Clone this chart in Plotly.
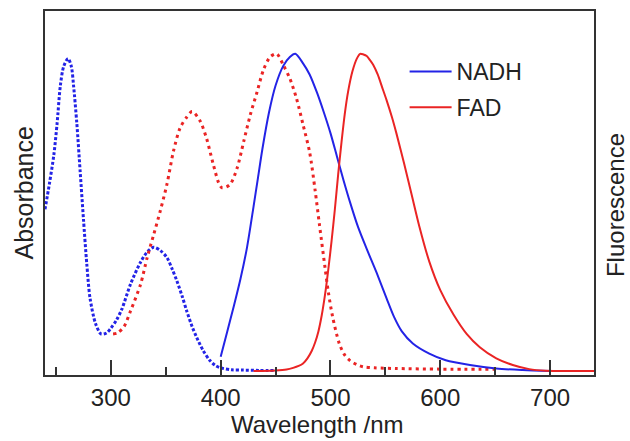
import plotly.graph_objects as go

# ---- data (normalised intensities) ----
nadh_abs_wl = [240, 244, 248, 251, 254, 257, 261, 264, 266, 269, 272, 275, 278, 281, 286, 291, 296, 300,
               305, 310, 318, 327, 333, 339, 345, 351, 356, 360, 365, 369, 374, 378, 384, 390, 395, 400,
               410, 420, 435, 450]
nadh_abs = [0.51, 0.59, 0.68, 0.78, 0.90, 0.96, 0.985, 0.96, 0.90, 0.78, 0.63, 0.48, 0.34, 0.23, 0.15,
            0.117, 0.12, 0.135, 0.16, 0.195, 0.275, 0.343, 0.375, 0.39, 0.38, 0.358, 0.32, 0.285, 0.235,
            0.19, 0.14, 0.107, 0.065, 0.034, 0.018, 0.01, 0.004, 0.003, 0.002, 0.002]

fad_abs_wl = [302, 306, 312, 318, 327, 333, 339, 345, 351, 357, 363, 369, 374, 381, 387, 393, 398, 401,
              405, 409, 415, 421, 427, 433, 439, 445, 451, 457, 463, 469, 475, 481, 486, 490, 495, 498,
              502, 508, 513, 518, 524, 530, 540, 560, 600, 650]
fad_abs = [0.117, 0.12, 0.14, 0.19, 0.273, 0.357, 0.43, 0.505, 0.588, 0.693, 0.766, 0.80, 0.818, 0.79,
           0.735, 0.655, 0.595, 0.578, 0.58, 0.59, 0.64, 0.724, 0.808, 0.878, 0.95, 0.99, 1.0, 0.965,
           0.922, 0.86, 0.777, 0.69, 0.57, 0.46, 0.327, 0.25, 0.17, 0.087, 0.05, 0.032, 0.02, 0.013,
           0.01, 0.008, 0.006, 0.006]

nadh_fl_wl = [400, 406, 412, 418, 424, 430, 434, 438, 444, 450, 457, 463, 468, 475, 481, 488, 494,
              500, 506, 512, 518, 525, 533, 542, 551, 558, 565, 575, 590, 605, 627, 651, 675, 700]
nadh_fl = [0.045, 0.125, 0.205, 0.29, 0.39, 0.52, 0.61, 0.70, 0.815, 0.90, 0.962, 0.99, 1.0, 0.97,
           0.935, 0.875, 0.815, 0.75, 0.675, 0.60, 0.53, 0.455, 0.385, 0.31, 0.23, 0.17, 0.125, 0.087,
           0.055, 0.034, 0.019, 0.008, 0.003, 0.0]

fad_fl_wl = [430, 450, 460, 466, 471, 475, 479, 483, 486, 489, 492, 495, 498, 501, 504, 507, 510, 513,
             516, 520, 524, 527, 530, 533, 536, 539, 543, 547, 551, 556, 560, 567, 574, 581, 590, 600,
             612, 624, 636, 651, 666, 681, 696, 720, 740]
fad_fl = [0.0, 0.002, 0.005, 0.01, 0.016, 0.024, 0.04, 0.064, 0.09, 0.125, 0.175, 0.24, 0.32, 0.41, 0.51,
          0.62, 0.72, 0.81, 0.88, 0.945, 0.985, 1.0, 0.998, 0.993, 0.98, 0.965, 0.935, 0.895, 0.855, 0.80,
          0.75, 0.655, 0.555, 0.455, 0.345, 0.255, 0.178, 0.117, 0.075, 0.04, 0.019, 0.006, 0.001, 0.0, 0.0]

x_ticks = [300, 400, 500, 600, 700]

BLUE = "#2323e6"
RED = "#ea2424"
AXIS = "#333333"
FONT = "Liberation Sans, Arial, sans-serif"

fig = go.Figure()
fig.add_trace(go.Scatter(x=nadh_abs_wl, y=nadh_abs, mode="lines", showlegend=False,
                         line=dict(color=BLUE, width=3, dash="3px,2px", shape="spline", smoothing=0.8)))
fig.add_trace(go.Scatter(x=fad_abs_wl, y=fad_abs, mode="lines", showlegend=False,
                         line=dict(color=RED, width=3, dash="3px,4px", shape="spline", smoothing=0.8)))
fig.add_trace(go.Scatter(x=nadh_fl_wl, y=nadh_fl, mode="lines", name="NADH", legendgroup="a",
                         line=dict(color=BLUE, width=2, shape="spline", smoothing=0.8)))
fig.add_trace(go.Scatter(x=fad_fl_wl, y=fad_fl, mode="lines", name="FAD", legendgroup="b",
                         line=dict(color=RED, width=2, shape="spline", smoothing=0.8)))

fig.update_layout(
    width=630, height=441,
    margin=dict(l=45, r=36, t=9, b=66),
    plot_bgcolor="white", paper_bgcolor="white",
    font=dict(family=FONT, color="#222222"),
    legend=dict(x=0.655, y=0.893, xanchor="left", yanchor="top", bgcolor="rgba(0,0,0,0)",
                font=dict(size=23, family=FONT, color="#222222"), traceorder="grouped",
                tracegroupgap=3, itemwidth=42),
    xaxis=dict(range=[240, 740], tickvals=x_ticks, ticktext=[str(v) for v in x_ticks],
               ticks="inside", ticklen=15, tickwidth=2, tickcolor=AXIS,
               minor=dict(ticks="inside", ticklen=8, tickwidth=2, tickcolor=AXIS, dtick=50, tick0=250),
               showline=True, linecolor=AXIS, linewidth=2, mirror=True,
               showgrid=False, zeroline=False,
               tickfont=dict(size=24, family=FONT, color="#222222")),
    yaxis=dict(range=[-0.0125, 1.135], showticklabels=False, ticks="",
               showline=True, linecolor=AXIS, linewidth=2, mirror=True,
               showgrid=False, zeroline=False),
    annotations=[
        dict(text="Wavelength /nm", x=0.497, y=-0.093, xref="paper", yref="paper",
             xanchor="center", yanchor="top", showarrow=False,
             font=dict(size=24, family=FONT, color="#222222")),
        dict(text="Absorbance", x=-0.04, y=0.4986, xref="paper", yref="paper", textangle=-90,
             xanchor="center", yanchor="middle", showarrow=False,
             font=dict(size=25, family=FONT, color="#222222")),
        dict(text="Fluorescence", x=1.0383, y=0.467, xref="paper", yref="paper", textangle=-90,
             xanchor="center", yanchor="middle", showarrow=False,
             font=dict(size=24, family=FONT, color="#222222")),
    ],
)

fig.write_html("out.html", config={"displayModeBar": False},
               post_script="document.body.style.margin='0';document.body.style.overflow='hidden';")
